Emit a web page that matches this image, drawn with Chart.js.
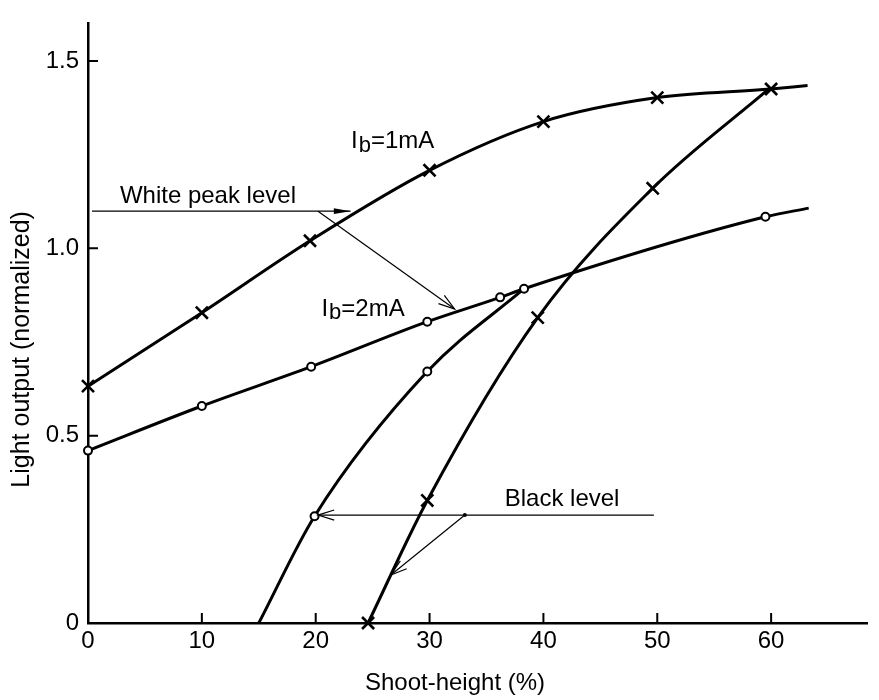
<!DOCTYPE html>
<html>
<head>
<meta charset="utf-8">
<script src="https://cdn.jsdelivr.net/npm/chart.js@4.4.1/dist/chart.umd.min.js"></script>
<style>
  html, body { margin: 0; padding: 0; background: #fff; }
  #wrap { width: 879px; height: 700px; }
</style>
</head>
<body>
<div id="wrap"><canvas id="chart"></canvas></div>
<script>
const xTicks = [0, 10, 20, 30, 40, 50, 60];
const yTicks = [0, 0.5, 1.0, 1.5];
const yTickLabels = ['0', '0.5', '1.0', '1.5'];
const xTitle = 'Shoot-height (%)';
const yTitle = 'Light output (normalized)';

// white peak level curves
const white1X = [0, 10, 19.5, 30, 40, 50, 60, 63.2];
const white1Y = [0.632, 0.828, 1.02, 1.208, 1.338, 1.402, 1.425, 1.434];
const white2X = [0, 10, 19.6, 29.8, 36.2, 38.3, 59.5, 63.3];
const white2Y = [0.46, 0.579, 0.684, 0.804, 0.869, 0.892, 1.084, 1.107];

// black level curves
const black1X = [24.6, 29.8, 39.5, 49.6, 59.8];
const black1Y = [0, 0.327, 0.815, 1.16, 1.425];
const black2X = [15, 19.9, 29.8, 38.3];
const black2Y = [0, 0.285, 0.671, 0.892];

// measured points: x for Ib=1mA, o for Ib=2mA
const cross1X = [0, 10, 19.5, 30, 40, 50, 60, 24.6, 29.8, 39.5, 49.6];
const cross1Y = [0.632, 0.828, 1.02, 1.208, 1.338, 1.402, 1.425, 0, 0.327, 0.815, 1.16];
const circle2X = [0, 10, 19.6, 29.8, 36.2, 38.3, 59.5, 19.9, 29.8];
const circle2Y = [0.46, 0.579, 0.684, 0.804, 0.869, 0.892, 1.084, 0.285, 0.671];

// annotations, in data units
const notes = [
  { text: 'White peak level', x: 2.8, y: 1.139 },
  { text: 'Black level', x: 36.6, y: 0.33 }
];
const ibNotes = [
  { rest: '=1mA', x: 23.1, y: 1.285 },
  { rest: '=2mA', x: 20.5, y: 0.838 }
];
const arrows = [
  { from: [0.35, 1.099], to: [23.06, 1.099], head: 'filled' },
  { from: [20.2, 1.099], to: [32.2, 0.838], head: 'open' },
  { from: [49.7, 0.288], to: [20.2, 0.288], head: 'open' },
  { from: [33.1, 0.288], to: [26.6, 0.128], head: 'open', dot: true }
];

const FONT = '"Liberation Sans", Arial, Helvetica, sans-serif';

function pts(xs, ys) {
  return xs.map((x, i) => ({ x: x, y: ys[i] }));
}

function curve(xs, ys) {
  return {
    data: pts(xs, ys),
    showLine: true,
    borderColor: '#000',
    borderWidth: 3,
    pointRadius: 0,
    cubicInterpolationMode: 'monotone',
    fill: false,
    clip: false
  };
}

function arrowHead(ctx, x1, y1, x2, y2, type) {
  const a = Math.atan2(y2 - y1, x2 - x1);
  const len = 17;
  const sp = type === 'filled' ? 0.17 : 0.3;
  const ax = x2 - len * Math.cos(a - sp), ay = y2 - len * Math.sin(a - sp);
  const bx = x2 - len * Math.cos(a + sp), by = y2 - len * Math.sin(a + sp);
  ctx.beginPath();
  if (type === 'filled') {
    ctx.moveTo(x2, y2);
    ctx.lineTo(ax, ay);
    ctx.lineTo(bx, by);
    ctx.closePath();
    ctx.fill();
  } else {
    ctx.moveTo(ax, ay);
    ctx.lineTo(x2, y2);
    ctx.lineTo(bx, by);
    ctx.stroke();
  }
}

const extras = {
  id: 'extras',
  afterDraw(chart) {
    const { ctx, chartArea, scales: { x, y } } = chart;
    ctx.save();
    ctx.strokeStyle = '#000';
    ctx.fillStyle = '#000';

    // tick marks point into the plot
    ctx.lineWidth = 2;
    ctx.beginPath();
    xTicks.forEach(v => {
      if (v === 0) return;
      const px = x.getPixelForValue(v);
      ctx.moveTo(px, chartArea.bottom);
      ctx.lineTo(px, chartArea.bottom - 10);
    });
    yTicks.forEach(v => {
      if (v === 0) return;
      const py = y.getPixelForValue(v);
      ctx.moveTo(chartArea.left, py);
      ctx.lineTo(chartArea.left + 10, py);
    });
    ctx.stroke();

    // thin annotation arrows
    ctx.lineWidth = 1.2;
    arrows.forEach(a => {
      const x1 = x.getPixelForValue(a.from[0]), y1 = y.getPixelForValue(a.from[1]);
      const x2 = x.getPixelForValue(a.to[0]), y2 = y.getPixelForValue(a.to[1]);
      ctx.beginPath();
      ctx.moveTo(x1, y1);
      ctx.lineTo(x2, y2);
      ctx.stroke();
      arrowHead(ctx, x1, y1, x2, y2, a.head);
      if (a.dot) {
        ctx.beginPath();
        ctx.arc(x1, y1, 2, 0, Math.PI * 2);
        ctx.fill();
      }
    });

    // labels
    ctx.textBaseline = 'middle';
    ctx.textAlign = 'left';
    ctx.font = '24px ' + FONT;
    notes.forEach(n => {
      ctx.fillText(n.text, x.getPixelForValue(n.x), y.getPixelForValue(n.y));
    });
    ibNotes.forEach(n => {
      let px = x.getPixelForValue(n.x);
      const py = y.getPixelForValue(n.y);
      ctx.font = '24px ' + FONT;
      ctx.fillText('I', px, py);
      px += ctx.measureText('I').width + 1;
      ctx.font = '22px ' + FONT;
      ctx.fillText('b', px, py + 4);
      px += ctx.measureText('b').width;
      ctx.font = '24px ' + FONT;
      ctx.fillText(n.rest, px, py);
    });

    // axis titles (the originals sit a little off-centre)
    ctx.textAlign = 'center';
    ctx.font = '24px ' + FONT;
    ctx.fillText(xTitle, chartArea.left + 367, chartArea.bottom + 60);
    ctx.translate(22, chartArea.top + 326);
    ctx.rotate(-Math.PI / 2);
    ctx.font = '25px ' + FONT;
    ctx.fillText(yTitle, 0, 0);
    ctx.restore();
  }
};

new Chart(document.getElementById('chart'), {
  type: 'scatter',
  data: {
    datasets: [
      {
        data: pts(cross1X, cross1Y),
        pointStyle: 'crossRot',
        pointRadius: 8.5,
        pointBorderWidth: 2.6,
        borderColor: '#000',
        backgroundColor: '#000',
        clip: false
      },
      {
        data: pts(circle2X, circle2Y),
        pointStyle: 'circle',
        pointRadius: 4,
        pointBorderWidth: 2,
        borderColor: '#000',
        backgroundColor: '#fff',
        clip: false
      },
      curve(white1X, white1Y),
      curve(white2X, white2Y),
      curve(black1X, black1Y),
      curve(black2X, black2Y)
    ]
  },
  options: {
    responsive: true,
    maintainAspectRatio: false,
    animation: false,
    devicePixelRatio: 1,
    layout: { padding: { top: 11, right: 3, left: 0, bottom: 0 } },
    plugins: { legend: { display: false }, tooltip: { enabled: false } },
    scales: {
      x: {
        type: 'linear',
        min: 0,
        max: 68.5,
        afterBuildTicks: s => { s.ticks = xTicks.map(v => ({ value: v })); },
        afterFit: s => { s.height = 77; },
        grid: { display: true, drawOnChartArea: false, drawTicks: false },
        border: { display: true, color: '#000', width: 2.5 },
        ticks: {
          color: '#000',
          font: { family: FONT, size: 24 },
          padding: 4,
          maxRotation: 0,
          autoSkip: false,
          callback: v => String(v)
        }
      },
      y: {
        type: 'linear',
        min: 0,
        max: 1.6,
        afterBuildTicks: s => { s.ticks = yTicks.map(v => ({ value: v })); },
        afterFit: s => { s.width = 88; },
        grid: { display: true, drawOnChartArea: false, drawTicks: false },
        border: { display: true, color: '#000', width: 2.5 },
        ticks: {
          color: '#000',
          font: { family: FONT, size: 24 },
          padding: 9,
          callback: v => yTickLabels[yTicks.indexOf(v)]
        }
      }
    }
  },
  plugins: [extras]
});
</script>
</body>
</html>
